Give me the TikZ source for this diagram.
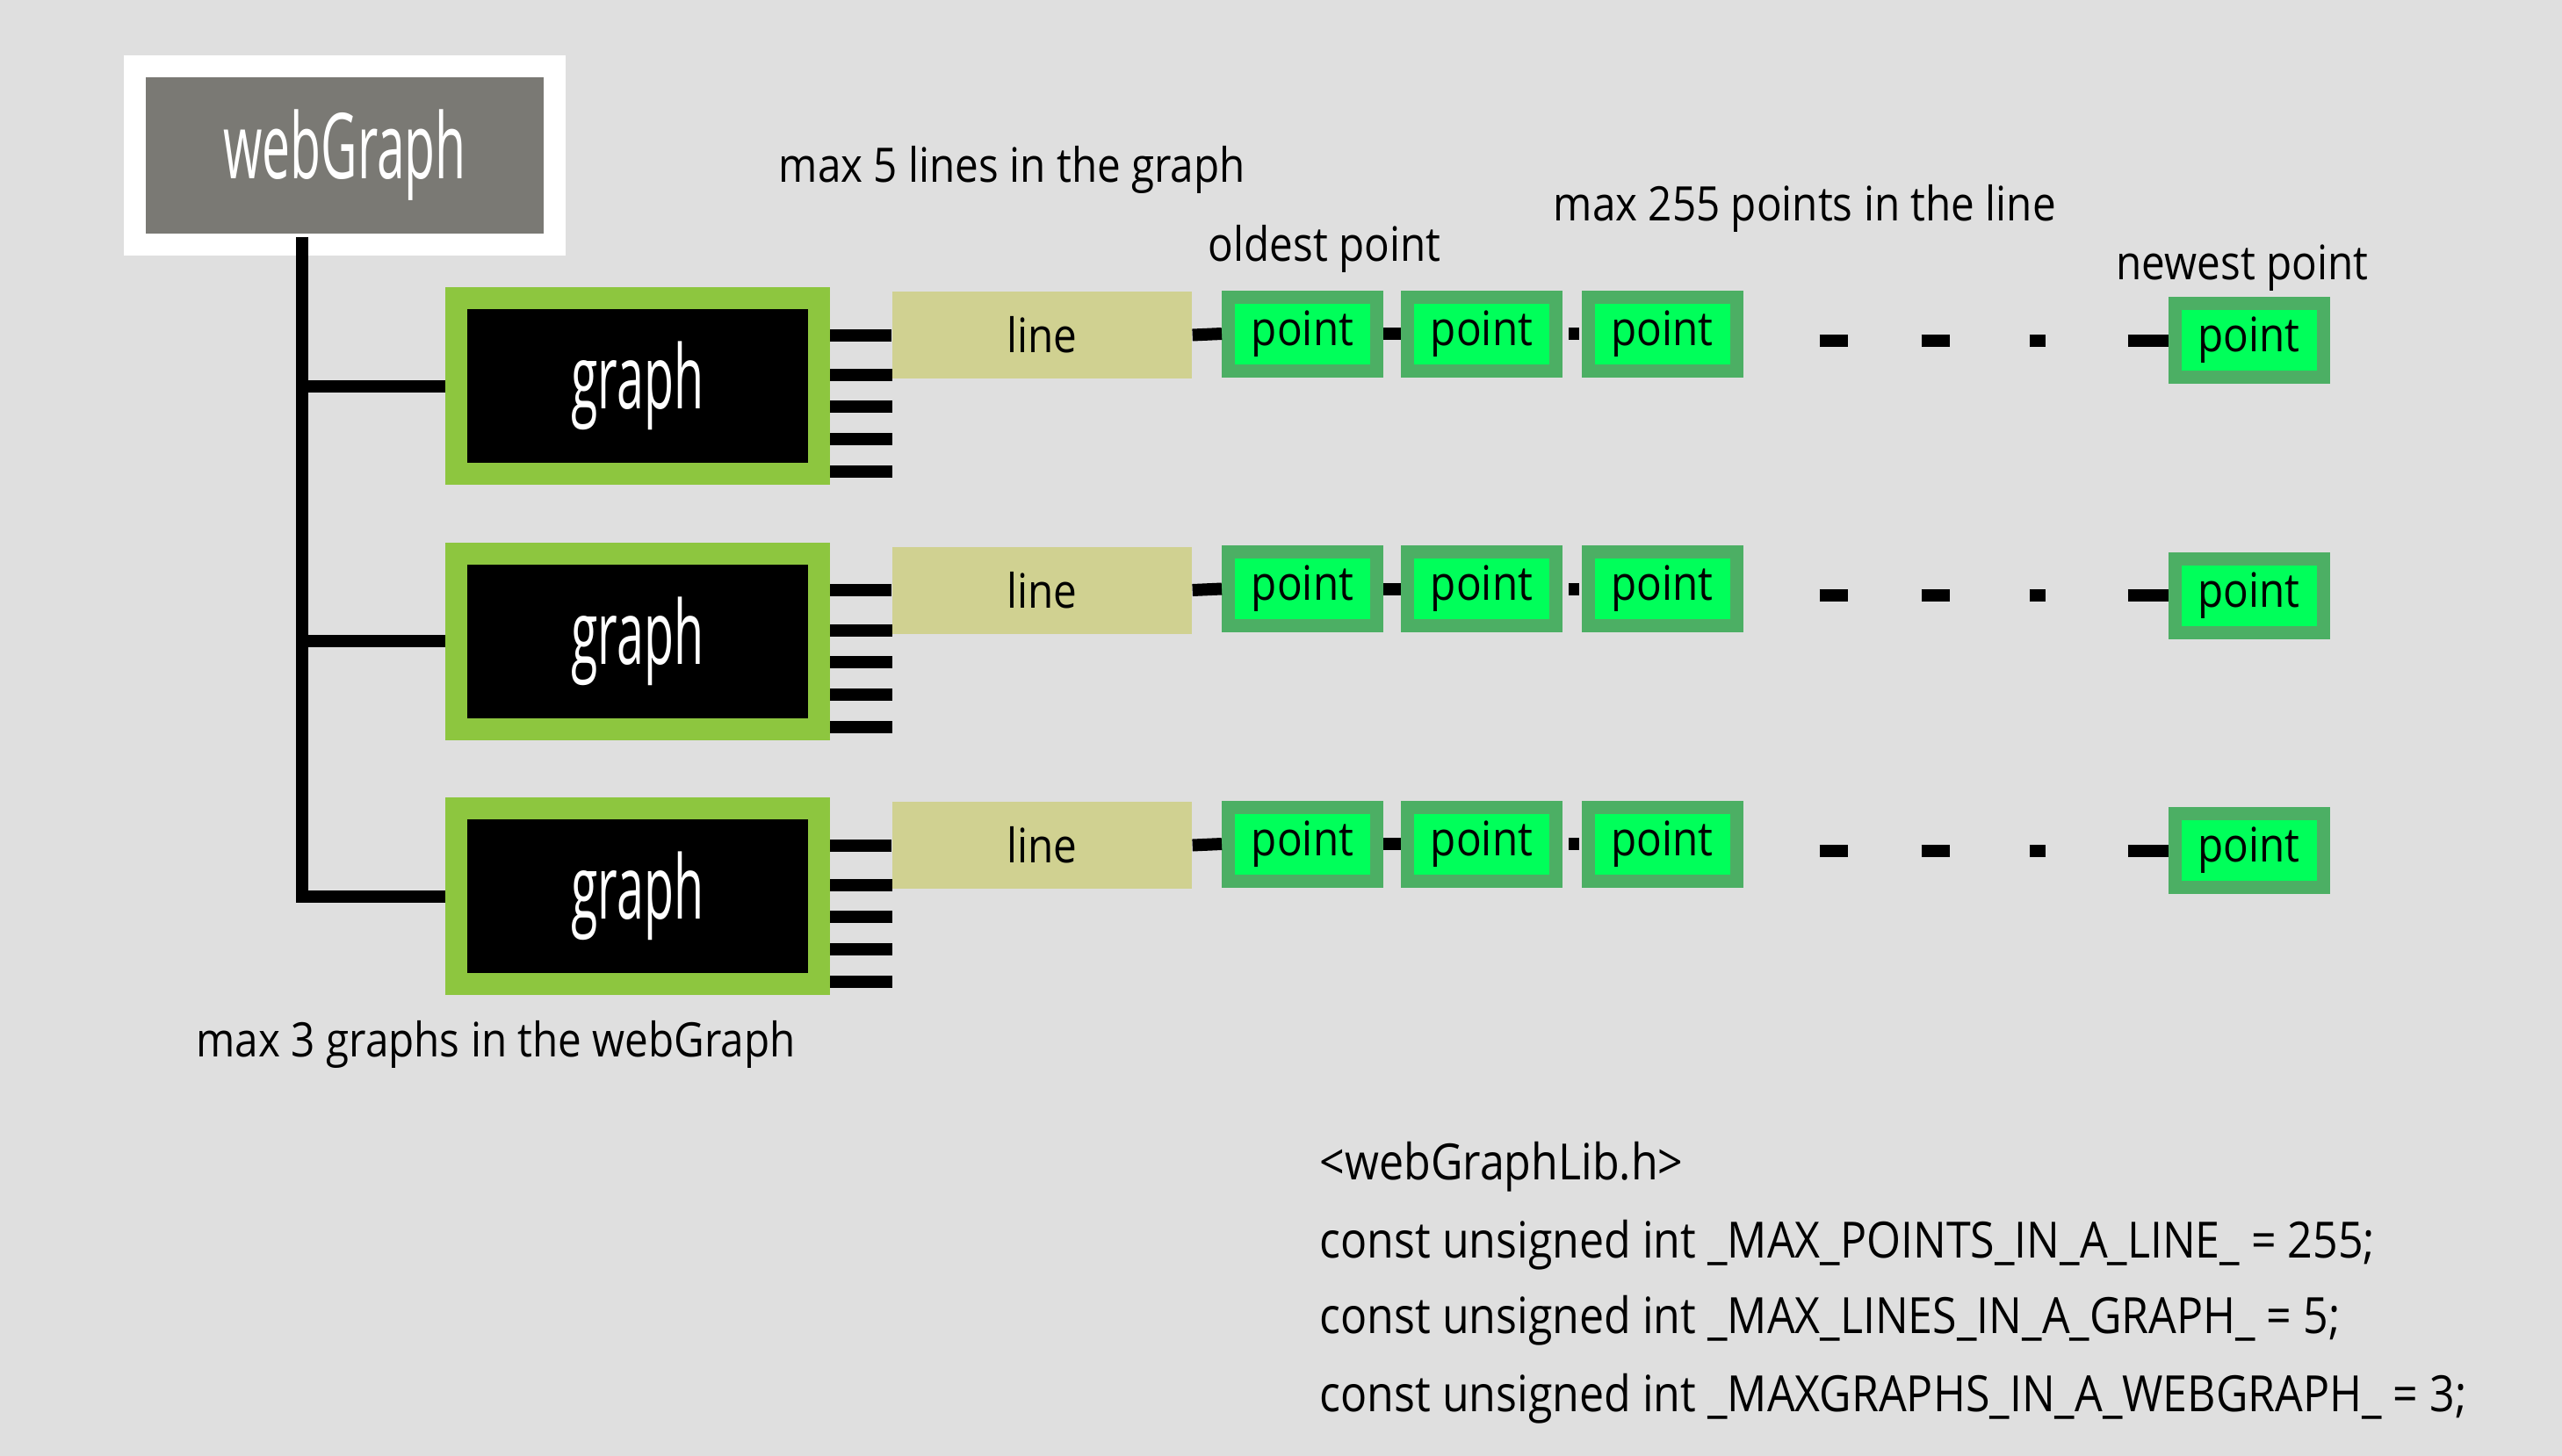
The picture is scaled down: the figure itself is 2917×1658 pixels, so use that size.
\documentclass[tikz,border=0pt]{standalone}
\usepackage{fontspec}
\setmainfont{Open Sans}[FakeStretch=0.88]
\newfontfamily\narrowfont{Open Sans}[FakeStretch=0.55]
\usepackage{tikz}

\definecolor{bgcol}{HTML}{DFDFDF}
\definecolor{wgray}{HTML}{7A7974}
\definecolor{ggreen}{HTML}{8DC63F}
\definecolor{lkhaki}{HTML}{D0D191}
\definecolor{pborder}{HTML}{4CAF64}
\definecolor{pgreen}{HTML}{00FF5A}

\tikzset{
  topbox/.style={draw=white, line width=2.5mm, fill=wgray, text=white, inner sep=0pt,
    minimum width=47.8mm, minimum height=20.3mm, font=\narrowfont\fontsize{29.5}{30}\selectfont},
  graphbox/.style={draw=ggreen, line width=2.5mm, fill=black, text=white, inner sep=0pt,
    minimum width=41.3mm, minimum height=20mm, font=\narrowfont\fontsize{28.7}{30}\selectfont},
  linebox/.style={fill=lkhaki, inner sep=0pt, minimum width=34.1mm, minimum height=9.9mm},
  pointbox/.style={draw=pborder, line width=1.5mm, fill=pgreen, inner sep=0pt,
    minimum width=16.9mm, minimum height=8.4mm},
  bar/.style={line width=1.4mm},
  note/.style={anchor=base west, inner sep=0pt},
  code/.style={note, font=\fontsize{16.2}{18}\selectfont},
}

\begin{document}
\begin{tikzpicture}[x=0.1mm, y=-0.1mm, font=\fontsize{15.4}{18}\selectfont]
  \fill[bgcol] (0,0) rectangle (2917,1658);

  \node[topbox] (wg) at (392.5,177) {webGraph};
  \coordinate (tk) at (344,270);

  \foreach \r/\y in {1/0, 2/290.5, 3/581} {
    \node[graphbox] (g\r) at (726,{439.5+\y}) {graph};
    \node[linebox] (l\r) at (1186.5,{381.5+\y}) {line};
    \node[pointbox] (pa\r) at (1483,{380+\y}) {point};
    \node[pointbox] (pb\r) at (1687,{380+\y}) {point};
    \node[pointbox] (pc\r) at (1892.5,{380+\y}) {point};
    \node[pointbox] (pn\r) at (2560.5,{387.5+\y}) {point};

    \draw[bar] (tk |- g\r.west) -- (g\r.west);
    \draw[bar] (g\r.east |- l\r.west) -- (l\r.west);
    \foreach \dy in {-12.5,23.5,60.5,97.5}
      \draw[bar] ([yshift=-\dy*0.1mm]g\r.east) -- ++(71,0);
    \draw[bar] (l\r.east) -- (pa\r.west);
    \draw[bar] (pa\r.east) -- (pb\r.west);
    \draw[bar, shorten <=0.7mm, shorten >=0.3mm] (pb\r.east) -- (pc\r.west);
    \draw[bar, dash pattern=on 0mm off 8.7mm on 3.2mm off 8.4mm on 3.2mm off 9.1mm on 1.8mm off 9.4mm on 4.7mm]
      (pn\r.west -| pc\r.east) -- (pn\r.west);
  }
  \draw[bar] (tk) |- (g3.west);

  % labels
  \node[note] (maxlines) at (886,207) {max 5 lines in the graph};
  \node[note] (oldest) at (1375,297) {oldest point};
  \node[note] (maxpoints) at (1768,251) {max 255 points in the line};
  \node[note] (newest) at (2409,318) {newest point};
  \node[note] (maxgraphs) at (223,1203) {max 3 graphs in the webGraph};

  \node[code] (hdr) at (1502,1343) {<webGraphLib.h>};
  \node[code] (c1) at (1502,1432) {const unsigned int \_MAX\_POINTS\_IN\_A\_LINE\_ = 255;};
  \node[code] (c2) at (1502,1518) {const unsigned int \_MAX\_LINES\_IN\_A\_GRAPH\_ = 5;};
  \node[code] (c3) at (1502,1607) {const unsigned int \_MAXGRAPHS\_IN\_A\_WEBGRAPH\_ = 3;};
\end{tikzpicture}
\end{document}
